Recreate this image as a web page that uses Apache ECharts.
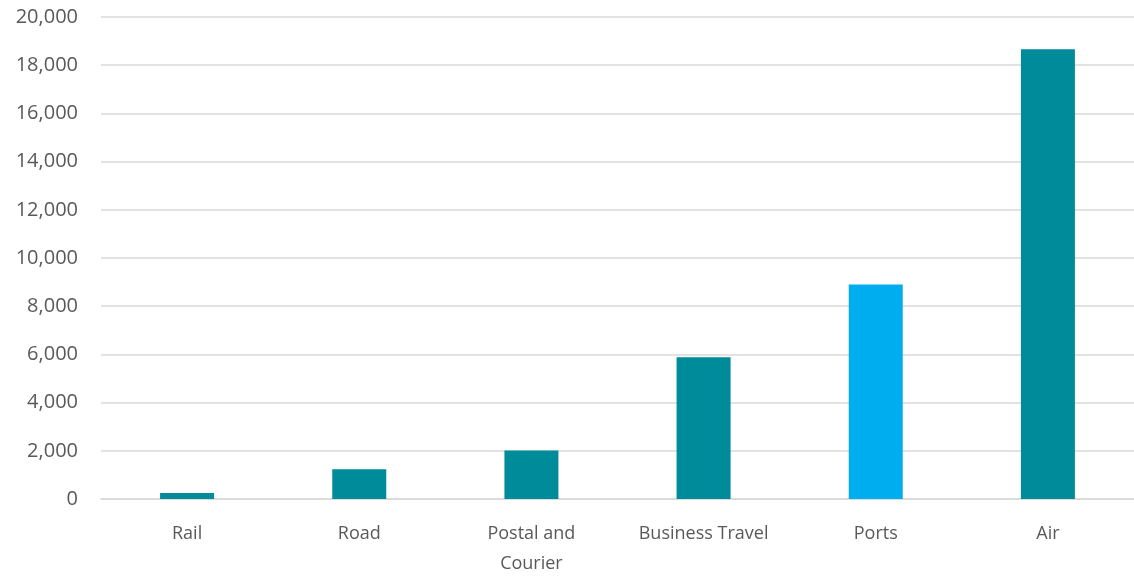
<!DOCTYPE html>
<html>
<head>
<meta charset="utf-8">
<script src="https://cdn.jsdelivr.net/npm/echarts@6/dist/echarts.min.js"></script>
<style>
  html, body { margin: 0; padding: 0; background: #fff; overflow: hidden; }
  #chart { width: 1134px; height: 579px; }
</style>
</head>
<body>
<div id="chart"></div>
<script>
var categories = ["Rail", "Road", "Postal and\nCourier", "Business Travel", "Ports", "Air"];
var values = [250, 1230, 2010, 5880, 8900, 18660];
var barColors = ["#008b9a", "#008b9a", "#008b9a", "#008b9a", "#00aeef", "#008b9a"];
var yTicks = { min: 0, max: 20000, interval: 2000 };

var myChart = echarts.init(document.getElementById("chart"), null, { renderer: "canvas" });

var option = {
  animation: false,
  grid: {
    top: 17,
    left: 101,
    right: -5,
    bottom: 73,
    containLabel: false,
  },
  xAxis: {
    type: "category",
    data: categories,
    axisTick: { show: false },
    axisLine: { show: true, lineStyle: { color: "#d9d9d9", width: 1.5 } },
    axisLabel: {
      interval: 0,
      margin: 20,
      color: "#595959",
      fontFamily: "Open Sans",
      fontSize: 18,
      lineHeight: 30,
    },
  },
  yAxis: {
    type: "value",
    min: yTicks.min,
    max: yTicks.max,
    interval: yTicks.interval,
    axisLine: { show: false },
    axisTick: { show: false },
    splitLine: { lineStyle: { color: "#d9d9d9", width: 1.5 } },
    axisLabel: {
      margin: 23,
      color: "#595959",
      fontFamily: "Open Sans",
      fontSize: 20,
      formatter: function (v) {
        return v.toLocaleString("en-US");
      },
    },
  },
  series: [
    {
      type: "bar",
      barWidth: 54,
      data: values.map(function (v, i) {
        return { value: v, itemStyle: { color: barColors[i] } };
      }),
    },
  ],
};

myChart.setOption(option);
</script>
</body>
</html>
